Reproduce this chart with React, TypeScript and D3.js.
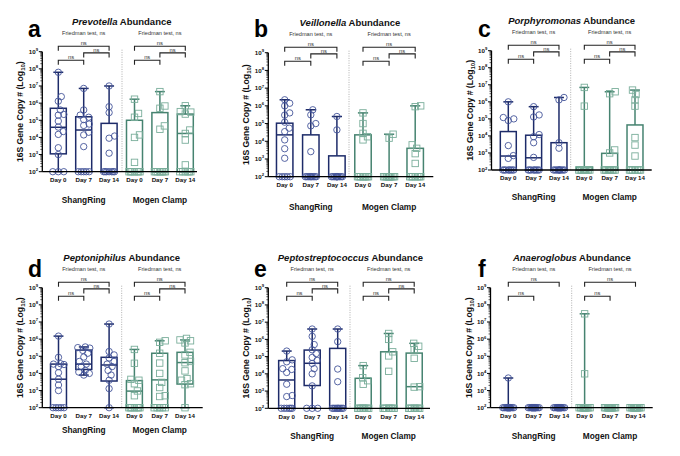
import React from "react";
import * as d3 from "d3";

// ---------- DATA ----------
const dayLabels = ["Day 0", "Day 7", "Day 14", "Day 0", "Day 7", "Day 14"];
const deviceLabels = ["ShangRing", "Mogen Clamp"];
const genusNames = ["Prevotella", "Veillonella", "Porphyromonas", "Peptoniphilus", "Peptostreptococcus", "Anaeroglobus"];
const panelLetters = ["a", "b", "c", "d", "e", "f"];
const yTickExponents = [2, 3, 4, 5, 6, 7, 8, 9];
const friedmanText = "Friedman test, ns";
const pairText = "ns";
const axisTitle = "16S Gene Copy # (Log";
const axisTitleSub = "10";

// box statistics per group: [min, q1, median, q3, max]
// groups: ShangRing D0, D7, D14, Mogen D0, D7, D14
const prevotellaBoxes = [
  [1e2, 1.1e3, 3.9e4, 5e5, 6.3e7],
  [1e2, 1e2, 2.7e4, 1.6e5, 7.2e6],
  [1e2, 1e2, 1e2, 6.6e4, 1e7],
  [1e2, 1e2, 1e2, 1e5, 1.7e6],
  [1e2, 1e2, 1e2, 2.8e5, 4.7e6],
  [1e2, 1e2, 1.7e4, 2.3e5, 7e5],
];
const prevotellaPoints = [
  [6.3e7, 2.4e6, 1.3e6, 4e5, 2.2e5, 2e5, 9e4, 4e4, 2.2e4, 1.5e4, 2.5e3, 1e3, 1e2, 1e2, 1e2],
  [7.2e6, 4e5, 2e5, 1.5e5, 1.1e5, 6e4, 5e4, 2e4, 1.4e4, 2.9e3, 1e2, 1e2, 1e2, 1e2, 1e2],
  [1e7, 6.2e5, 2.8e5, 1.2e4, 9e3, 1.2e3, 1e2, 1e2, 1e2, 1e2, 1e2, 1e2, 1e2],
  [1.7e6, 2.5e5, 1.5e5, 1.4e4, 1e4, 3.5e2, 1e2, 1e2, 1e2, 1e2, 1e2, 1e2, 1e2],
  [4.7e6, 6.8e5, 5e5, 4.7e4, 3e4, 1e2, 1e2, 1e2, 1e2, 1e2, 1e2, 1e2, 1e2],
  [7e5, 3.2e5, 3e5, 2.3e5, 2.7e4, 1.7e4, 7e3, 2.5e2, 1e2, 1e2, 1e2, 1e2, 1e2, 1e2],
];

const veillonellaBoxes = [
  [1e2, 1e2, 2.3e4, 1.05e5, 2.2e6],
  [1e2, 1e2, 1e2, 2.3e4, 6e5],
  [1e2, 1e2, 1e2, 1.5e3, 2.5e5],
  [1e2, 1e2, 1e2, 2.3e4, 4e5],
  [1e2, 1e2, 1e2, 1e2, 2.5e4],
  [1e2, 1e2, 1e2, 4e3, 1e6],
];
const veillonellaPoints = [
  [2.2e6, 1.4e6, 1e6, 4e5, 3e5, 1.2e5, 5.5e4, 3.5e4, 1.2e4, 3.8e3, 1.1e3, 1e2, 1e2, 1e2, 1e2, 1e2],
  [6e5, 3.1e5, 1e5, 7.4e4, 2.6e3, 1e2, 1e2, 1e2, 1e2, 1e2, 1e2, 1e2, 1e2, 1e2],
  [2.5e5, 4.4e4, 1e2, 1e2, 1e2, 1e2, 1e2, 1e2, 1e2, 1e2, 1e2, 1e2, 1e2],
  [4e5, 1e5, 2.8e4, 1.8e4, 1.2e4, 1e2, 1e2, 1e2, 1e2, 1e2, 1e2, 1e2, 1e2],
  [2.5e4, 1.5e4, 1e2, 1e2, 1e2, 1e2, 1e2, 1e2, 1e2, 1e2, 1e2, 1e2, 1e2],
  [1e6, 9e5, 6.3e3, 4e3, 2e3, 5.6e2, 1e2, 1e2, 1e2, 1e2, 1e2, 1e2, 1e2],
];

const porphyromonasBoxes = [
  [1e2, 1e2, 6.6e2, 1.8e4, 1e6],
  [1e2, 1e2, 5.2e2, 1.1e4, 5.2e5],
  [1e2, 1e2, 1e2, 4e3, 1.8e6],
  [1e2, 1e2, 1e2, 1.5e2, 7e6],
  [1e2, 1e2, 1e2, 9.5e2, 3.9e6],
  [1e2, 1e2, 1e2, 4.4e4, 4.9e6],
];
const porphyromonasPoints = [
  [1e6, 1.2e5, 1e5, 8e4, 2.7e3, 7e2, 4.8e2, 1e2, 1e2, 1e2, 1e2, 1e2, 1e2, 1e2, 1e2],
  [5.2e5, 1.7e5, 1.3e5, 1.2e4, 9e3, 4e3, 5.5e2, 1e2, 1e2, 1e2, 1e2, 1e2, 1e2, 1e2, 1e2],
  [1.8e6, 1.3e6, 4e3, 1.9e3, 1e2, 1e2, 1e2, 1e2, 1e2, 1e2, 1e2, 1e2, 1e2, 1e2],
  [7e6, 5.6e5, 1e2, 1e2, 1e2, 1e2, 1e2, 1e2, 1e2, 1e2, 1e2, 1e2, 1e2, 1e2],
  [3.9e6, 3e6, 1.5e3, 1e3, 1e2, 1e2, 1e2, 1e2, 1e2, 1e2, 1e2, 1e2, 1e2, 1e2],
  [4.9e6, 2.7e6, 1.3e6, 5.6e5, 8e3, 2.9e3, 6.6e2, 1e2, 1e2, 1e2, 1e2, 1e2, 1e2, 1e2],
];

const peptoniphilusBoxes = [
  [1e2, 1e2, 4.6e3, 3.5e4, 1.5e6],
  [8e3, 1.7e4, 3.5e4, 2.3e5, 3.5e5],
  [1e2, 3.6e3, 3.1e4, 8.7e4, 7.6e6],
  [1e2, 1e2, 9.3e2, 3.8e3, 2.5e5],
  [1e2, 1e2, 4.2e3, 1.5e5, 8e5],
  [1e2, 2.4e3, 4.3e4, 1.7e5, 9e5],
];
const peptoniphilusPoints = [
  [1.5e6, 8.7e4, 3.7e4, 3.5e4, 3.3e4, 2.5e4, 1.1e4, 4.6e3, 2.1e3, 1e3, 1e2, 1e2, 1e2, 1e2, 1e2],
  [3.5e5, 3.2e5, 3e5, 2.2e5, 1.5e5, 9e4, 5e4, 3.5e4, 2.5e4, 1.5e4, 1.2e4, 1e4, 8e3],
  [7.6e6, 1.9e5, 1.2e5, 8e4, 5e4, 3.5e4, 2.5e4, 1.5e4, 8e3, 4e3, 1.3e3, 1e2],
  [2.5e5, 3.9e4, 4.5e3, 4e3, 2.5e3, 9.5e2, 5e2, 1e2, 1e2, 1e2, 1e2, 1e2, 1e2, 1e2],
  [8e5, 6.5e5, 1.5e5, 4e4, 1e4, 3e3, 1.5e3, 5e2, 4.5e2, 1e2, 1e2, 1e2, 1e2, 1e2],
  [1.1e6, 9e5, 8e5, 6e5, 1.7e5, 1.2e5, 5e4, 4.2e4, 1.4e4, 5e3, 4e3, 2.5e3, 2.2e3, 1e2],
];

const peptostreptococcusBoxes = [
  [1e2, 1e2, 4.4e3, 5.9e4, 2.1e5],
  [1e2, 2.1e3, 4.1e4, 2.4e5, 4e6],
  [1e2, 1e2, 1e2, 3e5, 4e6],
  [1e2, 1e2, 1e2, 5.5e3, 3e4],
  [1e2, 1e2, 1e2, 1.9e5, 2.2e6],
  [1e2, 1e2, 1.8e3, 1.6e5, 5.9e5],
];
const peptostreptococcusPoints = [
  [2.1e5, 6.5e4, 5e4, 2e4, 1.8e4, 1.2e4, 2.5e3, 5.5e2, 4.8e2, 1e2, 1e2, 1e2, 1e2, 1e2, 1e2],
  [4e6, 1.5e6, 5e5, 2.5e5, 1.5e5, 9e4, 6e4, 4e4, 2e4, 1e4, 2e3, 1e2, 1e2, 1e2],
  [4e6, 7.4e5, 1.9e4, 3.5e3, 1e2, 1e2, 1e2, 1e2, 1e2, 1e2, 1e2, 1e2, 1e2],
  [3e4, 6e3, 4e3, 2.5e3, 1e2, 1e2, 1e2, 1e2, 1e2, 1e2, 1e2, 1e2, 1e2],
  [2.2e6, 1e6, 1.9e5, 1.1e5, 1.4e4, 1e2, 1e2, 1e2, 1e2, 1e2, 1e2, 1e2, 1e2],
  [5.9e5, 4e5, 2.5e5, 8e4, 1.8e3, 1.7e3, 1e2, 1e2, 1e2, 1e2, 1e2, 1e2, 1e2, 1e2],
];

const anaeroglobusBoxes = [
  [1e2, 1e2, 1e2, 1e2, 5.4e3],
  [1e2, 1e2, 1e2, 1e2, 1e2],
  [1e2, 1e2, 1e2, 1e2, 1e2],
  [1e2, 1e2, 1e2, 1e2, 3e7],
  [1e2, 1e2, 1e2, 1e2, 1e2],
  [1e2, 1e2, 1e2, 1e2, 1e2],
];
const anaeroglobusPoints = [
  [5.4e3, 1e2, 1e2, 1e2, 1e2, 1e2, 1e2, 1e2, 1e2, 1e2, 1e2, 1e2, 1e2, 1e2, 1e2],
  [1e2, 1e2, 1e2, 1e2, 1e2, 1e2, 1e2, 1e2, 1e2, 1e2, 1e2, 1e2, 1e2, 1e2, 1e2],
  [1e2, 1e2, 1e2, 1e2, 1e2, 1e2, 1e2, 1e2, 1e2, 1e2, 1e2, 1e2, 1e2, 1e2, 1e2],
  [3e7, 9.5e3, 1e2, 1e2, 1e2, 1e2, 1e2, 1e2, 1e2, 1e2, 1e2, 1e2, 1e2, 1e2, 1e2],
  [1e2, 1e2, 1e2, 1e2, 1e2, 1e2, 1e2, 1e2, 1e2, 1e2, 1e2, 1e2, 1e2, 1e2, 1e2],
  [1e2, 1e2, 1e2, 1e2, 1e2, 1e2, 1e2, 1e2, 1e2, 1e2, 1e2, 1e2, 1e2, 1e2, 1e2],
];

// pairwise comparisons within each device (group indices within a device)
const threeComparisons = [[0, 2], [1, 2], [0, 1]];
const twoComparisons = [[0, 2], [0, 1]];

const panelData = [
  { boxes: prevotellaBoxes, points: prevotellaPoints, comparisons: threeComparisons },
  { boxes: veillonellaBoxes, points: veillonellaPoints, comparisons: threeComparisons },
  { boxes: porphyromonasBoxes, points: porphyromonasPoints, comparisons: threeComparisons },
  { boxes: peptoniphilusBoxes, points: peptoniphilusPoints, comparisons: threeComparisons },
  { boxes: peptostreptococcusBoxes, points: peptostreptococcusPoints, comparisons: threeComparisons },
  { boxes: anaeroglobusBoxes, points: anaeroglobusPoints, comparisons: twoComparisons },
];

// ---------- LAYOUT ----------
const layouts = [
  { left: 42.3, top: 51.7, bottom: 171.7, right: 197, first: 58.3, last: 185.3, divider: 122, letterX: 28, letterY: 37, groupDy: 28.3 },
  { left: 268.3, top: 52.7, bottom: 176.7, right: 433.3, first: 284.7, last: 415.2, divider: 349, letterX: 254, letterY: 37, groupDy: 30 },
  { left: 491.5, top: 50.7, bottom: 170, right: 651.7, first: 508.3, last: 635, divider: 570.7, letterX: 478, letterY: 37, groupDy: 27.3 },
  { left: 42.3, top: 287.7, bottom: 407.7, right: 202.7, first: 58.5, last: 185, divider: 121.7, letterX: 28, letterY: 277, groupDy: 22.3 },
  { left: 268.3, top: 287.7, bottom: 408.3, right: 430, first: 286.7, last: 414.2, divider: 350, letterX: 254, letterY: 277, groupDy: 27.4 },
  { left: 490.5, top: 287.7, bottom: 407.7, right: 652.7, first: 508.3, last: 635.5, divider: 571.7, letterX: 478, letterY: 277, groupDy: 28 },
];

const FONT = "'Liberation Sans', Arial, Helvetica, sans-serif";
const NAVY = "#1d2b69";
const NAVY_PT = "#44559a";
const GREEN = "#468370";
const GREEN_PT = "#7aae9b";

function swarm(values: number[], y: (v: number) => number, r: number, maxOff: number) {
  const ys = values.map((v) => y(v)).sort((a, b) => b - a);
  const placed: { x: number; y: number }[] = [];
  const minD = 2 * r * 0.85;
  const cands: number[] = [0];
  for (let o = 0.5; o <= maxOff + 1e-9; o += 0.5) cands.push(o, -o);
  for (const yy of ys) {
    let best = 0;
    let bestScore = -Infinity;
    for (const c of cands) {
      let md = Infinity;
      for (const p of placed) md = Math.min(md, Math.hypot(p.x - c, p.y - yy));
      if (md >= minD) {
        best = c;
        break;
      }
      if (md > bestScore + 0.01) {
        bestScore = md;
        best = c;
      }
    }
    placed.push({ x: best, y: yy });
  }
  return placed;
}

function Panel({ idx }: { idx: number }) {
  const L = layouts[idx];
  const D = panelData[idx];
  const y = d3.scaleLog().domain([1e2, 1e9]).range([L.bottom, L.top]);
  const x = d3.scalePoint<number>().domain(d3.range(6)).range([L.first, L.last]);
  const step = (L.last - L.first) / 5;
  const bw = step * 0.63;
  const capW = bw * 0.62;
  const r = 3.2;

  const minorTicks: number[] = [];
  for (let e = 2; e < 9; e++) for (let m = 2; m <= 9; m++) minorTicks.push(m * Math.pow(10, e));

  const midX = ((x(0) as number) + (x(5) as number)) / 2;
  const bracketY = (a: number, b: number) => (b - a === 2 ? L.top - 5.5 : a === 1 ? L.top + 1.2 : L.top + 8.5);

  return (
    <g fontFamily={FONT}>
      <text x={L.letterX} y={L.letterY} fontSize={23} fontWeight="bold" fill="#000">
        {panelLetters[idx]}
      </text>
      <text x={midX} y={L.top - 27} fontSize={9.5} fontWeight="bold" textAnchor="middle" fill="#111">
        <tspan fontStyle="italic">{genusNames[idx]}</tspan>
        <tspan> Abundance</tspan>
      </text>
      {[0, 1].map((g) => (
        <text
          key={"fr" + g}
          x={((x(g * 3) as number) + (x(g * 3 + 2) as number)) / 2}
          y={L.top - 17.2}
          fontSize={5.6}
          textAnchor="middle"
          fill="#333"
        >
          {friedmanText}
        </text>
      ))}
      {[0, 1].map((g) =>
        D.comparisons.map(([a, b], k) => {
          const x1 = x(g * 3 + a) as number;
          const x2 = x(g * 3 + b) as number;
          const yy = bracketY(a, b);
          return (
            <g key={"br" + g + "-" + k}>
              <path
                d={`M${x1},${yy + 4.5}V${yy}H${x2}V${yy + 4.5}`}
                fill="none"
                stroke="#222"
                strokeWidth={1.1}
              />
              <text x={(x1 + x2) / 2} y={yy - 1.3} fontSize={5.8} textAnchor="middle" fill="#333">
                {pairText}
              </text>
            </g>
          );
        })
      )}
      <line
        x1={L.divider}
        x2={L.divider}
        y1={L.top - 2}
        y2={L.bottom}
        stroke="#9a9a9a"
        strokeWidth={0.8}
        strokeDasharray="1 1.4"
      />
      {D.boxes.map(([mn, q1, md, q3, mx], i) => {
        const cx = x(i) as number;
        const col = i < 3 ? NAVY : GREEN;
        return (
          <g key={"bx" + i} stroke={col} strokeWidth={1.5} fill="none">
            <line x1={cx} x2={cx} y1={y(mn)} y2={y(q1)} />
            <line x1={cx} x2={cx} y1={y(q3)} y2={y(mx)} />
            <line x1={cx - capW / 2} x2={cx + capW / 2} y1={y(mx)} y2={y(mx)} />
            <line x1={cx - capW / 2} x2={cx + capW / 2} y1={y(mn)} y2={y(mn)} />
            <rect x={cx - bw / 2} y={y(q3)} width={bw} height={Math.max(0, y(q1) - y(q3))} />
            <line x1={cx - bw / 2} x2={cx + bw / 2} y1={y(md)} y2={y(md)} />
          </g>
        );
      })}
      {D.points.map((vals, i) => {
        const cx = x(i) as number;
        const pts = swarm(vals, y, r, 6);
        if (i < 3) {
          return (
            <g key={"pt" + i} stroke={NAVY_PT} strokeWidth={0.9} fill="none">
              {pts.map((p, j) => (
                <circle key={j} cx={cx + p.x} cy={p.y} r={r} />
              ))}
            </g>
          );
        }
        return (
          <g key={"pt" + i} stroke={GREEN_PT} strokeWidth={0.9} fill="none">
            {pts.map((p, j) => (
              <rect key={j} x={cx + p.x - r} y={p.y - r} width={2 * r} height={2 * r} />
            ))}
          </g>
        );
      })}
      <line x1={L.left} x2={L.left} y1={L.top} y2={L.bottom} stroke="#000" strokeWidth={1.3} />
      {yTickExponents.map((e) => (
        <g key={"yt" + e}>
          <line x1={L.left - 3.5} x2={L.left} y1={y(Math.pow(10, e))} y2={y(Math.pow(10, e))} stroke="#000" strokeWidth={1} />
          <text x={L.left - 4.2} y={y(Math.pow(10, e)) + 2.3} fontSize={6.2} fontWeight="bold" textAnchor="end" fill="#111">
            10
            <tspan fontSize={4.2} dy={-2.8}>
              {e}
            </tspan>
          </text>
        </g>
      ))}
      {minorTicks.map((v, k) => (
        <line key={"mt" + k} x1={L.left - 2} x2={L.left} y1={y(v)} y2={y(v)} stroke="#000" strokeWidth={0.6} />
      ))}
      <text
        transform={`translate(${L.left - 19},${(L.top + L.bottom) / 2}) rotate(-90)`}
        fontSize={8.6}
        fontWeight="bold"
        textAnchor="middle"
        fill="#111"
      >
        {axisTitle}
        <tspan fontSize={6} dy={2}>
          {axisTitleSub}
        </tspan>
        <tspan dy={-2}>)</tspan>
      </text>
      <line x1={L.left} x2={L.right} y1={L.bottom} y2={L.bottom} stroke="#000" strokeWidth={1.3} />
      {dayLabels.map((d, i) => (
        <text key={"dl" + i} x={x(i) as number} y={L.bottom + 10.3} fontSize={6.2} fontWeight="bold" textAnchor="middle" fill="#111">
          {d}
        </text>
      ))}
      {deviceLabels.map((d, g) => (
        <text
          key={"gl" + g}
          x={x(g * 3 + 1) as number}
          y={L.bottom + L.groupDy + 3}
          fontSize={8.3}
          fontWeight="bold"
          textAnchor="middle"
          fill="#111"
        >
          {d}
        </text>
      ))}
    </g>
  );
}

export default function App() {
  return (
    <svg
      width={680}
      height={456}
      viewBox="0 0 680 456"
      style={{ position: "absolute", left: 0, top: 0, display: "block", background: "#fff" }}
    >
      <rect width={680} height={456} fill="#fff" />
      {layouts.map((_, i) => (
        <Panel key={i} idx={i} />
      ))}
    </svg>
  );
}
